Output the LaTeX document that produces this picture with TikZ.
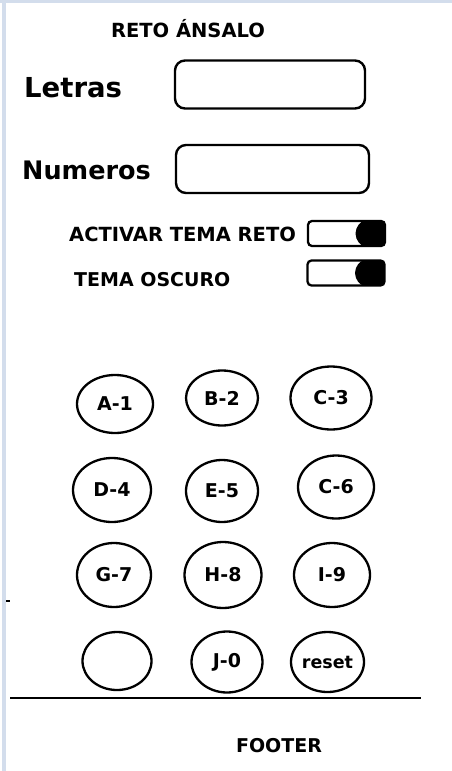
\documentclass[tikz,border=0pt]{standalone}
\usepackage{fontspec}
\setmainfont{DejaVu Sans}
\usetikzlibrary{shapes.geometric}
\definecolor{edgeblue}{HTML}{D3DDEC}
\tikzset{
  lbl/.style={font=\bfseries, text=black, inner sep=0pt},
  field/.style={draw=black, line width=2.4pt, rounded corners=10pt, minimum width=190pt, minimum height=48pt, inner sep=0pt},
  key/.style={draw=black, line width=2.3pt, ellipse, inner sep=0pt, font=\bfseries\fontsize{19}{21}\selectfont},
  tog/.style={draw=black, line width=2.3pt, rounded corners=4pt, minimum width=77pt, minimum height=25pt, inner sep=0pt},
}
\begin{document}
\begin{tikzpicture}[x=1pt,y=-1pt]
\useasboundingbox (0,0) rectangle (452,771);
\fill[white] (0,0) rectangle (452,771);
% window edges
\fill[edgeblue] (2,0) rectangle (6,771);
\fill[edgeblue] (0,0) rectangle (452,3);
% title
\node[lbl, font=\bfseries\fontsize{19.5}{22}\selectfont] (title) at (188,29) {RETO ÁNSALO};
% fields
\node[lbl, font=\bfseries\fontsize{27.5}{31}\selectfont, anchor=west] (letras) at (24,88) {Letras};
\node[field] (fletras) at (270,84.5) {};
\node[lbl, font=\bfseries\fontsize{25.5}{30}\selectfont, anchor=west] (numeros) at (22,170) {Numeros};
\node[field, minimum width=193pt] (fnum) at (272.5,169) {};
% toggles
\node[lbl, font=\bfseries\fontsize{19.5}{22}\selectfont, anchor=west] (act) at (69,234) {ACTIVAR TEMA RETO};
\node[tog] (t1) at (346.5,233.5) {};
\fill[black, rounded corners=4pt] (385,221) -- (385,246) -- (368,246) arc[start angle=270,end angle=90,radius=12.5pt] -- cycle;
\node[lbl, font=\bfseries\fontsize{19}{22}\selectfont, anchor=west] (osc) at (74,280) {TEMA OSCURO};
\node[tog] (t2) at (346,273) {};
\fill[black, rounded corners=4pt] (384.5,260.5) -- (384.5,285.5) -- (367.5,285.5) arc[start angle=270,end angle=90,radius=12.5pt] -- cycle;
% keypad
\node[key, minimum width=76pt, minimum height=58pt] (k1) at (115,404) {A-1};
\node[key, minimum width=72pt, minimum height=55pt] (k2) at (222,398) {B-2};
\node[key, minimum width=81pt, minimum height=63pt] (k3) at (331,398) {C-3};
\node[key, minimum width=78pt, minimum height=64pt] (k4) at (112,490) {D-4};
\node[key, minimum width=72pt, minimum height=62pt] (k5) at (222,491) {E-5};
\node[key, minimum width=76pt, minimum height=63pt] (k6) at (336,487) {C-6};
\node[key, minimum width=74pt, minimum height=64pt] (k7) at (114,575) {G-7};
\node[key, minimum width=77pt, minimum height=66pt] (k8) at (223,575) {H-8};
\node[key, minimum width=76pt, minimum height=64pt] (k9) at (332,575) {I-9};
\node[key, minimum width=69pt, minimum height=58pt] (kb) at (117,661) {};
\node[key, minimum width=71pt, minimum height=61pt] (k0) at (227,662) {J-0};
\node[key, minimum width=73pt, minimum height=60pt, font=\bfseries\fontsize{17.5}{19}\selectfont] (kr) at (327.5,662) {reset};
% small dash
\coordinate (d1) at (6,601);
\coordinate (d2) at (10,601);
\draw[line width=1.5pt] (d1) -- (d2);
% footer
\coordinate (f1) at (10,698);
\coordinate (f2) at (421,698);
\draw[line width=1.5pt] (f1) -- (f2);
\node[lbl, font=\bfseries\fontsize{19}{22}\selectfont] (footer) at (279,746) {FOOTER};
\end{tikzpicture}
\end{document}
